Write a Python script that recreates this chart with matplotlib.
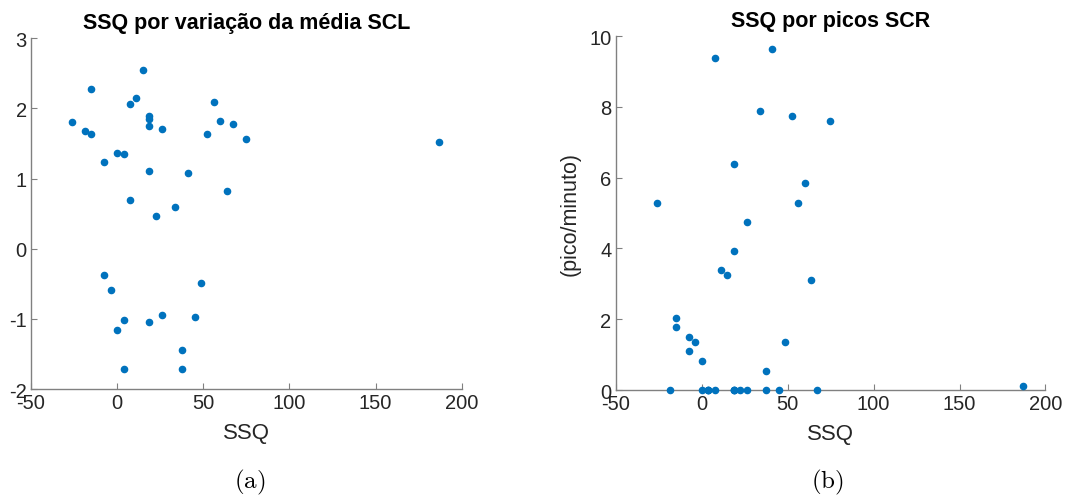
import matplotlib
matplotlib.use("Agg")
import matplotlib.pyplot as plt

plt.rcParams['axes.unicode_minus'] = False
plt.rcParams['font.family'] = ['Liberation Sans', 'DejaVu Sans']
plt.rcParams['mathtext.fontset'] = 'cm'

# SSQ score for each participant (shared by both panels)
ssq = [-26.18, -18.70, -14.96, -14.96, -7.48, -7.48, -3.74, 0.0, 0.0,
       3.74, 3.74, 3.74, 7.48, 7.48, 11.22, 14.96,
       18.70, 18.70, 18.70, 18.70, 18.70, 22.44, 26.18, 26.18, 33.66,
       37.40, 37.40, 41.14, 44.88, 48.62, 52.36, 56.10, 59.84, 63.58,
       67.32, 74.80, 187.0]

# (a) variation of the SCL mean
scl = [1.81, 1.67, 2.28, 1.63, 1.24, -0.38, -0.59, 1.36, -1.16,
       1.35, -1.01, -1.72, 2.06, 0.69, 2.15, 2.55,
       1.89, 1.85, 1.75, 1.10, -1.05, 0.47, 1.70, -0.94, 0.59,
       -1.45, -1.71, 1.08, -0.97, -0.49, 1.64, 2.09, 1.82, 0.82,
       1.77, 1.56, 1.52]

# (b) SCR peaks per minute
scr = [5.29, 0.0, 2.04, 1.77, 1.49, 1.09, 1.36, 0.81, 0.0,
       0.0, 0.0, 0.0, 0.0, 9.38, 3.40, 3.26,
       6.39, 3.94, 0.0, 0.0, 0.0, 0.0, 4.76, 0.0, 7.88,
       0.53, 0.0, 9.65, 0.0, 1.36, 7.75, 5.29, 5.84, 3.12,
       0.0, 7.61, 0.12]

xticks = [-50, 0, 50, 100, 150, 200]
dot = '#0072BD'
grey = '#808080'
txt = '#262626'

fig = plt.figure(figsize=(10.69, 5.02), dpi=100)
ax1 = fig.add_axes([0.029, 0.223, 0.403, 0.699])
ax2 = fig.add_axes([0.576, 0.221, 0.402, 0.705])


def style(ax):
    for s in ['top', 'right']:
        ax.spines[s].set_visible(False)
    for s in ['left', 'bottom']:
        ax.spines[s].set_color(grey)
        ax.spines[s].set_linewidth(1.0)
    ax.tick_params(direction='in', length=4, color=grey, labelcolor=txt,
                   labelsize=14.5, pad=3)
    ax.set_xlim(-50, 200)
    ax.set_xticks(xticks)
    ax.set_xlabel('SSQ', fontsize=16, color=txt, labelpad=7)


ax1.scatter(ssq, scl, s=20, color=dot, zorder=3, clip_on=False)
style(ax1)
ax1.set_ylim(-2, 3)
ax1.set_yticks([-2, -1, 0, 1, 2, 3])
ax1.set_title('SSQ por variação da média SCL', fontsize=15.5, fontweight='bold',
              color='black', pad=7)

ax2.scatter(ssq, scr, s=20, color=dot, zorder=3, clip_on=False)
style(ax2)
ax2.set_ylim(0, 10)
ax2.set_yticks([0, 2, 4, 6, 8, 10])
ax2.set_ylabel('(pico/minuto)', fontsize=15.5, color=txt, labelpad=6)
ax2.set_title('SSQ por picos SCR', fontsize=15.5, fontweight='bold',
              color='black', pad=7)

fig.text(0.234, 0.038, r'$\mathrm{(a)}$', fontsize=18, ha='center', va='center')
fig.text(0.774, 0.038, r'$\mathrm{(b)}$', fontsize=18, ha='center', va='center')

fig.savefig('out.png', dpi=100)
